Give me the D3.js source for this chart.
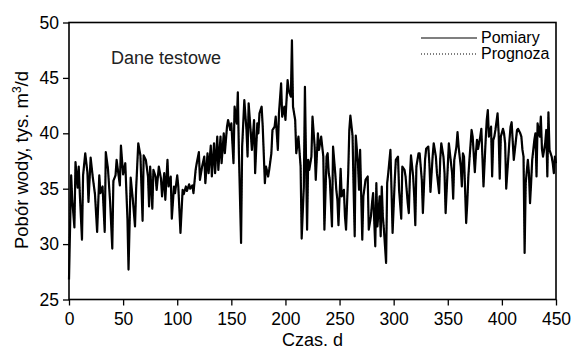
<!DOCTYPE html>
<html>
<head>
<meta charset="utf-8">
<script src="https://cdn.jsdelivr.net/npm/d3@7"></script>
<style>
body { margin: 0; background: #fff; }
text { font-family: Arial, "Liberation Sans", sans-serif; }
</style>
</head>
<body>
<div id="root"></div>
<script>
// dni pomiarowe
var days = [
    0, 2, 3, 5, 6, 8, 9, 10, 12, 13, 15, 17, 18, 20, 22, 24, 26, 28, 29, 31, 33, 34, 36, 38, 40, 41, 43, 44, 47, 48,
    50, 52, 54, 55, 57, 59, 61, 62, 64, 66, 68, 69, 71, 73, 74,
    75, 77, 78, 80, 81, 83, 85, 86, 88, 89, 91, 92, 94, 95, 97, 98, 100, 101, 103, 105, 106, 108, 109, 111, 112, 114,
    115, 117, 118, 120, 121, 123, 125, 126, 128, 129, 131, 132, 134, 135, 137, 138, 140, 141, 143, 144, 146,
    147, 149, 150, 152, 153, 155, 156, 157, 159, 160, 162, 164, 165, 166, 168, 169, 171, 172, 174, 175, 176, 178, 179,
    181, 182, 184, 185, 187, 188, 190, 191, 193, 194, 196, 197, 199, 200, 202, 203, 205, 206, 207, 209, 210, 212, 214,
    215, 217, 218, 220, 221,
    222, 224, 225, 227, 228, 230, 231, 233, 235, 236, 238, 239, 240, 241, 243, 244, 246, 247, 248, 249, 251, 252, 254,
    255, 256, 258, 259, 260, 262, 263, 264, 265, 267, 268, 269, 271, 272, 274, 276, 277, 279, 280, 281, 283, 284, 285,
    287, 288, 289, 290, 291, 293, 294, 295, 297,
    298, 299, 301, 302, 304, 305, 307, 308, 310, 311, 313, 314, 315, 316, 318, 319, 320, 321, 323, 324, 326, 327, 329,
    330, 332, 333, 334, 336, 337, 338, 339, 340, 342, 343, 344, 346, 347, 348, 350, 351, 352, 354, 355, 356, 358, 359,
    360, 362, 363, 364, 365, 367, 368, 369, 370, 372,
    373, 375, 376, 377, 378, 380, 381, 382, 383, 385, 386, 387, 388, 390, 391, 392, 393, 394, 396, 397, 398, 399, 401,
    402, 403, 404, 406, 407, 408, 409, 411, 412, 413, 414, 415, 417, 418, 419, 420, 421, 422, 424, 425, 426, 427, 428,
    430, 431, 432, 433, 435, 436, 437, 438, 440, 441, 442, 443, 444, 446, 447, 448, 449, 450
];

// Pomiary, tys. m3/d
var pomiary = [
    26.8, 36.2, 34.0, 31.5, 37.4, 35.1, 37.0, 34.5, 30.4, 36.2, 38.2, 36.5, 33.8, 37.8, 36.0, 34.5, 31.1, 36.2, 34.6, 35.2,
    31.1, 38.3, 36.8, 33.8, 29.6, 35.7, 36.2, 37.6, 35.3, 38.9, 36.3, 37.3, 32.3, 27.7, 36.0, 34.0, 31.6, 34.9, 39.1, 38.0,
    32.1, 38.0, 37.6, 36.1, 33.4,
    37.0, 33.2, 36.7, 36.1, 34.9, 37.0, 35.9, 34.3, 36.4, 34.0, 37.6, 35.2, 36.1, 32.3, 35.2, 34.6, 36.2, 35.2, 31.0, 34.9,
    34.5, 35.2, 34.8, 35.4, 35.0, 35.3, 34.6, 36.7, 37.3, 38.3, 35.8, 37.0, 37.9, 35.5, 38.2, 36.4, 38.9, 36.1, 39.1, 36.4,
    39.7, 36.7, 39.7, 37.3, 40.0, 38.2, 40.6,
    41.2, 40.3, 40.9, 37.3, 42.4, 40.9, 43.7, 38.2, 30.1, 38.8, 43.0, 40.3, 37.9, 42.7, 40.0, 38.5, 41.2, 36.4, 40.9, 40.0,
    41.8, 42.4, 40.6, 35.5, 37.0, 36.1, 36.7, 38.2, 40.3, 40.6, 41.5, 38.5, 41.8, 44.5, 41.5, 42.4, 41.2, 44.8, 43.9, 43.3,
    48.4, 42.4, 41.2, 38.2, 39.7, 37.0, 30.5, 35.2, 44.2, 31.3, 37.6,
    36.7, 37.9, 41.5, 38.8, 35.8, 40.0, 38.5, 39.7, 37.9, 31.3, 37.9, 38.2, 36.4, 35.8, 31.6, 38.8, 36.4, 34.9, 34.0, 31.7,
    36.8, 34.3, 34.9, 32.5, 31.3, 36.4, 40.3, 41.6, 39.8, 34.9, 30.7, 39.8, 37.3, 34.9, 38.5, 30.4, 34.3, 35.8, 36.1, 31.3,
    32.5, 33.7, 34.6, 29.8, 35.5, 31.6, 34.3, 30.7, 35.2, 32.5, 31.3, 28.3, 35.5, 36.4, 38.5,
    34.9, 31.0, 35.8, 37.6, 37.9, 34.9, 32.3, 37.0, 36.7, 36.1, 33.7, 32.8, 36.1, 38.0, 36.1, 34.3, 31.7, 37.0, 38.2, 38.2,
    35.8, 32.8, 37.6, 38.6, 38.8, 37.3, 34.7, 37.9, 39.1, 38.5, 37.9, 36.4, 34.6, 37.6, 39.1, 37.9, 36.4, 32.8, 37.0, 39.1,
    38.2, 36.4, 34.1, 37.6, 38.8, 40.1, 38.8, 37.0, 35.2, 38.2, 37.9, 31.9, 33.7, 36.1, 37.6, 40.3,
    39.7, 36.5, 38.2, 39.4, 38.6, 39.7, 40.4, 37.9, 35.2, 39.4, 41.2, 42.1, 39.7, 40.6, 36.1, 39.4, 39.7, 40.3, 41.8, 40.0,
    35.9, 39.7, 40.4, 40.0, 39.1, 35.0, 37.9, 39.4, 40.6, 41.0, 37.6, 38.5, 39.4, 40.3, 40.4, 40.0, 39.7, 38.5, 37.9, 29.2,
    35.5, 37.6, 36.4, 33.7, 35.5, 37.6, 39.4, 40.0, 36.1, 40.9, 39.7, 41.5, 38.6, 37.9, 39.1, 40.3, 36.1, 41.9, 38.5, 37.9,
    37.3, 36.4, 37.9, 37.3
];

// Prognoza, tys. m3/d
var prognoza = [
    29.5, 35.8, 34.2, 31.8, 37.1, 35.3, 36.8, 34.7, 30.9, 36.0, 38.0, 36.6, 34.0, 37.6, 36.1, 34.6, 31.5, 36.0, 34.8, 35.1,
    31.4, 38.0, 36.9, 34.0, 30.2, 35.5, 36.3, 37.4, 35.4, 38.6, 36.4, 37.1, 32.6, 28.5, 35.7, 34.2, 31.9, 35.0, 38.8, 38.1,
    32.5, 37.8, 37.5, 36.2, 33.6,
    36.8, 33.5, 36.6, 36.0, 35.0, 36.8, 35.9, 34.5, 36.3, 34.2, 37.4, 35.3, 36.0, 32.6, 35.1, 34.7, 36.1, 35.2, 31.4, 34.8,
    34.6, 35.1, 34.9, 35.3, 35.1, 35.2, 34.7, 36.5, 37.2, 38.1, 35.9, 36.9, 37.7, 35.6, 38.0, 36.5, 38.7, 36.3, 38.9, 36.6,
    39.5, 36.9, 39.5, 37.4, 39.8, 38.3, 40.4,
    41.0, 40.4, 40.7, 37.5, 42.1, 40.8, 43.4, 38.4, 31.0, 38.5, 42.7, 40.4, 38.1, 42.4, 40.1, 38.6, 41.0, 36.7, 40.7, 40.1,
    41.6, 42.2, 40.7, 35.8, 37.1, 36.3, 36.8, 38.3, 40.1, 40.6, 41.3, 38.7, 41.6, 44.1, 41.6, 42.2, 41.3, 44.5, 43.7, 43.4,
    47.0, 42.6, 41.1, 38.4, 39.6, 37.2, 31.2, 35.4, 43.5, 31.8, 37.4,
    36.8, 37.8, 41.2, 38.9, 36.0, 39.8, 38.6, 39.6, 37.9, 31.7, 37.8, 38.1, 36.5, 35.9, 31.9, 38.6, 36.5, 35.0, 34.1, 32.0,
    36.6, 34.4, 34.8, 32.7, 31.6, 36.3, 40.0, 41.3, 39.7, 35.1, 31.1, 39.5, 37.3, 35.0, 38.3, 30.8, 34.4, 35.7, 36.1, 31.6,
    32.7, 33.8, 34.5, 30.2, 35.3, 31.9, 34.2, 31.0, 35.0, 32.6, 31.5, 29.0, 35.3, 36.4, 38.3,
    35.1, 31.3, 35.7, 37.5, 37.8, 35.0, 32.6, 36.9, 36.7, 36.1, 33.8, 33.0, 36.0, 37.8, 36.1, 34.4, 32.0, 36.8, 38.1, 38.1,
    35.9, 33.1, 37.5, 38.5, 38.7, 37.3, 34.9, 37.8, 38.9, 38.5, 37.8, 36.5, 34.8, 37.5, 38.9, 37.9, 36.5, 33.1, 36.9, 38.9,
    38.2, 36.5, 34.3, 37.5, 38.7, 39.9, 38.8, 37.1, 35.4, 38.1, 37.8, 32.3, 33.9, 36.1, 37.5, 40.0,
    39.6, 36.7, 38.1, 39.3, 38.6, 39.6, 40.2, 38.0, 35.5, 39.3, 40.9, 41.8, 39.8, 40.4, 36.4, 39.3, 39.6, 40.2, 41.5, 40.0,
    36.2, 39.5, 40.3, 40.0, 39.1, 35.3, 37.8, 39.3, 40.4, 40.8, 37.8, 38.5, 39.3, 40.2, 40.3, 40.0, 39.6, 38.5, 37.9, 30.0,
    35.3, 37.5, 36.5, 34.0, 35.5, 37.5, 39.2, 39.9, 36.4, 40.6, 39.7, 41.2, 38.7, 38.0, 39.0, 40.1, 36.4, 41.5, 38.6, 37.9,
    37.3, 36.6, 37.8, 37.3
];

var xTicks = [0, 50, 100, 150, 200, 250, 300, 350, 400, 450];
var yTicks = [25, 30, 35, 40, 45, 50];

var margin = {
    top: 22.5,
    right: 17,
    bottom: 49.5,
    left: 69
};
var svgWidth = 573,
    svgHeight = 349,
    width = svgWidth - margin.left - margin.right,
    height = svgHeight - margin.top - margin.bottom;

var svgH = d3.select("#root")
    .append("svg")
    .attr("width", svgWidth)
    .attr("height", svgHeight)
    .style("display", "block");

var svg = svgH.append("g")
    .attr("transform", "translate(" + margin.left + "," + margin.top + ")");

var x = d3.scaleLinear()
    .domain([0, 450])
    .range([0, width]);

var y = d3.scaleLinear()
    .domain([25, 50])
    .range([height, 0]);

var rowsP = days.map(function (d, i) {
    return { day: d, v: pomiary[i] };
});
var rowsF = days.map(function (d, i) {
    return { day: d, v: prognoza[i] };
});

var line = d3.line()
    .x(function (d) { return x(d.day); })
    .y(function (d) { return y(d.v); });

// osie
var gx = svg.append("g")
    .attr("transform", "translate(0," + height + ")")
    .call(d3.axisBottom(x).tickValues(xTicks).tickSize(6).tickPadding(7));

var gy = svg.append("g")
    .call(d3.axisLeft(y).tickValues(yTicks).tickSize(6).tickPadding(4));

[gx, gy].forEach(function (g) {
    g.select(".domain").remove();
    g.selectAll(".tick line").attr("stroke", "#000").attr("stroke-width", 1.3);
    g.selectAll(".tick text")
        .attr("fill", "#000")
        .style("font-size", "17.5px")
        .style("font-family", "Arial, 'Liberation Sans', sans-serif");
});

// serie
svg.append("path")
    .datum(rowsP)
    .attr("fill", "none")
    .attr("stroke", "#000")
    .attr("stroke-width", 2.2)
    .attr("stroke-linejoin", "round")
    .attr("d", line);

svg.append("path")
    .datum(rowsF)
    .attr("fill", "none")
    .attr("stroke", "#000")
    .attr("stroke-width", 1.2)
    .attr("stroke-dasharray", "1,2")
    .attr("d", line);

// ramka
svg.append("rect")
    .attr("width", width)
    .attr("height", height)
    .attr("fill", "none")
    .attr("stroke", "#000")
    .attr("stroke-width", 1.6);

// napisy
svgH.append("text")
    .attr("x", 111)
    .attr("y", 64)
    .style("font-size", "18px")
    .attr("fill", "#222")
    .text("Dane testowe");

var legend = svgH.append("g").style("font-size", "16px");
legend.append("line")
    .attr("x1", 421).attr("x2", 477)
    .attr("y1", 38).attr("y2", 38)
    .attr("stroke", "#000").attr("stroke-width", 1.2);
legend.append("text").attr("x", 481).attr("y", 43).text("Pomiary");
legend.append("line")
    .attr("x1", 421).attr("x2", 477)
    .attr("y1", 54).attr("y2", 54)
    .attr("stroke", "#000").attr("stroke-width", 1.2)
    .attr("stroke-dasharray", "1,2");
legend.append("text").attr("x", 481).attr("y", 59).text("Prognoza");

svgH.append("text")
    .attr("x", margin.left + width / 2)
    .attr("y", 346)
    .attr("text-anchor", "middle")
    .style("font-size", "18px")
    .text("Czas. d");

var yTitle = svgH.append("text")
    .attr("transform", "translate(28,160) rotate(-90)")
    .attr("text-anchor", "middle")
    .style("font-size", "18.5px");
yTitle.append("tspan").text("Pobór wody, tys. m");
yTitle.append("tspan").attr("dy", -7).style("font-size", "12px").text("3");
yTitle.append("tspan").attr("dy", 7).text("/d");
</script>
</body>
</html>
